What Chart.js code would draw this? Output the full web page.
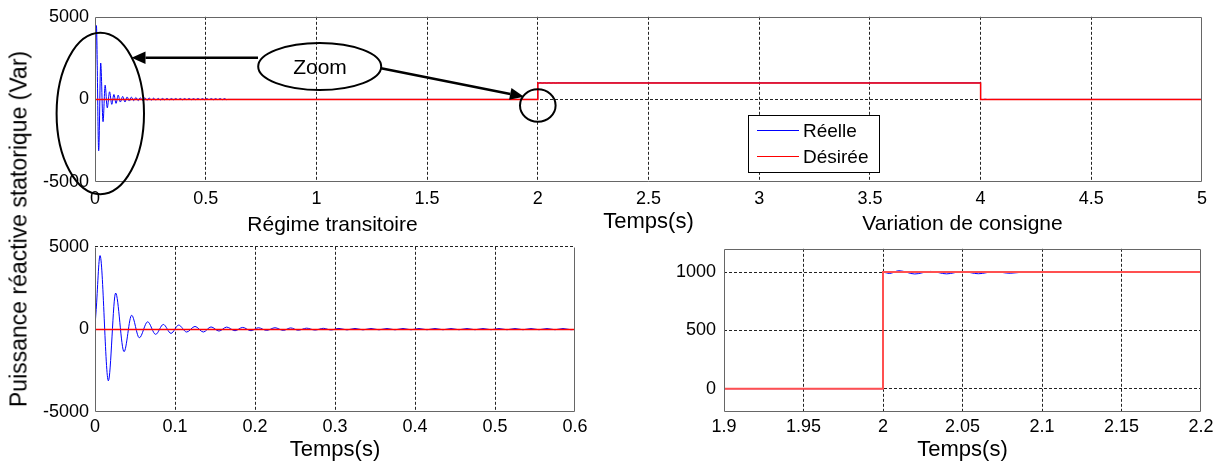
<!DOCTYPE html>
<html>
<head>
<meta charset="utf-8">
<script src="https://cdn.jsdelivr.net/npm/chart.js"></script>
<style>
html, body { margin: 0; padding: 0; background: #fff; }
body { width: 1223px; height: 465px; position: relative; overflow: hidden; font-family: 'Liberation Sans', Arial, sans-serif; }
canvas { position: absolute; }
#ylab { position: absolute; left: 18.5px; top: 229px; transform: translate(-50%, -50%) rotate(-90deg);
        font-size: 23px; line-height: 23px; white-space: nowrap; color: #000; }
</style>
</head>
<body>
<canvas id="topChart" width="1223" height="240" style="left:0;top:0"></canvas>
<canvas id="transChart" width="620" height="235" style="left:0;top:230px"></canvas>
<canvas id="zoomChart" width="603" height="235" style="left:620px;top:230px"></canvas>
<div id="ylab">Puissance réactive statorique (Var)</div>
<script>
// Réelle - transient part (peaks / troughs)
const transT = [0, 0.0015, 0.0063, 0.0167, 0.0258, 0.0363, 0.0458, 0.0554, 0.0658, 0.0758,
  0.0854, 0.095, 0.1046, 0.1146, 0.125, 0.1354, 0.145, 0.155, 0.1646, 0.175,
  0.1846, 0.195, 0.2042, 0.2146, 0.225, 0.2354, 0.2446, 0.254, 0.2646, 0.275,
  0.2854, 0.295, 0.305, 0.315, 0.325, 0.335, 0.345, 0.355, 0.365, 0.375,
  0.385, 0.395, 0.405, 0.415, 0.425, 0.435, 0.445, 0.455, 0.465, 0.475,
  0.485, 0.495, 0.505, 0.515, 0.525, 0.535, 0.545, 0.555, 0.565, 0.575,
  0.585, 0.595, 0.6];
const transV = [200, 1200, 4470, -3110, 2200, -1350, 860, -510, 460, -300,
  300, -240, 260, -160, 180, -160, 150, -100, 140, -80,
  120, -80, 100, -60, 100, -60, 90, -50, 75, -40,
  65, -35, 60, -30, 58, -28, 56, -25, 55, -25,
  55, -24, 54, -22, 54, -22, 53, -21, 53, -20,
  52, -20, 52, -20, 52, -20, 52, -19, 52, -19,
  52, -19, 0];

// Réelle - around the set point change at 2 s
const zoomT = [1.9, 2, 2, 2.004, 2.01, 2.02, 2.03, 2.04, 2.05, 2.06, 2.07, 2.08, 2.09, 2.1, 2.2];
const zoomV = [0, 0, 1000, 988, 1012, 984, 1006, 985, 1005, 986, 1004, 990, 1002, 1000, 1000];

// Réelle - back to zero at 4 s
const finT = [4, 4, 4.01, 4.02, 4.03, 4.05, 5];
const finV = [1000, 0, -12, 14, -6, 0, 0];

// Désirée
const desT = [0, 2, 2, 4, 4, 5];
const desV = [0, 0, 1000, 1000, 0, 0];
const desTransT = [0, 0.6];
const desTransV = [0, 0];
const desZoomT = [1.9, 2, 2, 2.2];
const desZoomV = [0, 0, 1000, 1000];

// tick labels
const topXTicks = [0, 0.5, 1, 1.5, 2, 2.5, 3, 3.5, 4, 4.5, 5];
const topYTicks = [-5000, 0, 5000];
const transXTicks = [0, 0.1, 0.2, 0.3, 0.4, 0.5, 0.6];
const transYTicks = [-5000, 0, 5000];
const zoomXTicks = [1.9, 1.95, 2, 2.05, 2.1, 2.15, 2.2];
const zoomYTicks = [0, 500, 1000];

const FONT = "'Liberation Sans', Arial, sans-serif";
const BLUE = '#0000ff';
const RED = '#ff0000';

const pts = (xs, ys) => xs.map((x, i) => ({ x: x, y: ys[i] }));

// grid colour: hide the lines lying on the box
function gridFor(hidden) {
    return function(c) {
        if (!c.tick) return '#222';
        return hidden.indexOf(c.tick.value) >= 0 ? 'rgba(0,0,0,0)' : '#222';
    };
}

function axis(ticksArr, min, max, size, isX, pad, hidden, title, titlePad) {
    const a = {
        type: 'linear', min: min, max: max,
        afterBuildTicks: s => { s.ticks = ticksArr.map(v => ({ value: v })); },
        afterFit: s => { if (isX) s.height = size; else s.width = size; },
        grid: { color: gridFor(hidden), drawTicks: false, lineWidth: 1 },
        border: { display: false, dash: [3, 2] },
        ticks: { padding: pad, color: '#000', font: { size: 18, family: FONT },
                 maxRotation: 0, autoSkip: false, callback: v => String(v) }
    };
    if (title) {
        a.title = { display: true, text: title, color: '#000',
                    font: { size: 22, family: FONT }, padding: { top: 0, bottom: titlePad } };
    }
    return a;
}

// box around the plot area (MATLAB axes)
const framePlugin = {
    id: 'frame',
    afterDatasetsDraw(chart, args, opts) {
        const a = chart.chartArea, ctx = chart.ctx;
        const sides = opts.sides || 'tlbr';
        const L = Math.round(a.left) + 0.5, R = Math.round(a.right) - 0.5;
        const T = Math.round(a.top) + 0.5, B = Math.round(a.bottom) - 0.5;
        ctx.save();
        ctx.strokeStyle = '#666';
        ctx.lineWidth = 1;
        ctx.beginPath();
        if (sides.indexOf('t') >= 0) { ctx.moveTo(L, T); ctx.lineTo(R, T); }
        if (sides.indexOf('b') >= 0) { ctx.moveTo(L, B); ctx.lineTo(R, B); }
        if (sides.indexOf('l') >= 0) { ctx.moveTo(L, T); ctx.lineTo(L, B); }
        if (sides.indexOf('r') >= 0) { ctx.moveTo(R, T); ctx.lineTo(R, B); }
        ctx.stroke();
        ctx.restore();
    }
};

function arrow(ctx, x1, y1, x2, y2, head, half) {
    const dx = x2 - x1, dy = y2 - y1, len = Math.hypot(dx, dy);
    const ux = dx / len, uy = dy / len;
    const bx = x2 - ux * head, by = y2 - uy * head;
    ctx.beginPath();
    ctx.moveTo(x1, y1);
    ctx.lineTo(bx, by);
    ctx.stroke();
    ctx.beginPath();
    ctx.moveTo(x2, y2);
    ctx.lineTo(bx - uy * half, by + ux * half);
    ctx.lineTo(bx + uy * half, by - ux * half);
    ctx.closePath();
    ctx.fill();
}

// legend, zoom annotations and section captions of the top plot
const notesPlugin = {
    id: 'notes',
    afterDraw(chart) {
        const ctx = chart.ctx;
        ctx.save();

        // legend
        ctx.fillStyle = '#fff';
        ctx.fillRect(748.5, 115.5, 131, 57);
        ctx.strokeStyle = '#000';
        ctx.lineWidth = 1;
        ctx.strokeRect(748.5, 115.5, 131, 57);
        ctx.font = '19px ' + FONT;
        ctx.textBaseline = 'middle';
        ctx.textAlign = 'left';
        chart.data.datasets.forEach((ds, i) => {
            const y = Math.round(130 + i * 25.7) + 0.5;
            ctx.strokeStyle = ds.borderColor;
            ctx.lineWidth = 1;
            ctx.beginPath();
            ctx.moveTo(757, y);
            ctx.lineTo(799, y);
            ctx.stroke();
            ctx.fillStyle = '#000';
            ctx.fillText(ds.label, 803, y + 1);
        });

        // ellipses
        ctx.strokeStyle = '#000';
        ctx.fillStyle = '#000';
        ctx.lineWidth = 2;
        ctx.beginPath();
        ctx.ellipse(100.3, 113.5, 43.7, 80.7, 0, 0, Math.PI * 2);
        ctx.stroke();
        ctx.beginPath();
        ctx.ellipse(319.7, 66.5, 61.5, 23.5, 0, 0, Math.PI * 2);
        ctx.stroke();
        ctx.beginPath();
        ctx.ellipse(537.8, 105.5, 17.8, 16.2, 0, 0, Math.PI * 2);
        ctx.stroke();

        // arrows
        ctx.lineWidth = 2.5;
        arrow(ctx, 258, 57.7, 131.5, 57.7, 14, 6.3);
        arrow(ctx, 381, 68.3, 524, 96.7, 14, 6);

        ctx.font = '21px ' + FONT;
        ctx.textAlign = 'center';
        ctx.textBaseline = 'alphabetic';
        ctx.fillText('Zoom', 320, 74);

        // section captions
        ctx.fillText('Régime transitoire', 332.5, 230.5);
        ctx.fillText('Variation de consigne', 962.5, 230);
        ctx.restore();
    }
};

const common = {
    responsive: false,
    animation: false,
    events: [],
    plugins: { legend: { display: false }, tooltip: { enabled: false } }
};

// top: whole simulation
new Chart(document.getElementById('topChart').getContext('2d'), {
    type: 'line',
    data: {
        datasets: [{
            label: 'Réelle',
            data: pts([...transT, ...zoomT, ...finT], [...transV, ...zoomV, ...finV]),
            borderColor: BLUE, borderWidth: 1, pointRadius: 0,
            cubicInterpolationMode: 'monotone', order: 1
        }, {
            label: 'Désirée',
            data: pts(desT, desV),
            borderColor: RED, borderWidth: 1.5, pointRadius: 0, tension: 0, order: 0
        }]
    },
    options: Object.assign({}, common, {
        layout: { padding: { left: 0, right: 21, top: 15, bottom: 0 } },
        plugins: Object.assign({}, common.plugins, { frame: { sides: 'tlbr' } }),
        scales: {
            x: axis(topXTicks, 0, 5, 58, true, 6, [0, 5], 'Temps(s)', 5),
            y: axis(topYTicks, -5000, 5000, 95, false, 6, [-5000, 5000])
        }
    }),
    plugins: [framePlugin, notesPlugin]
});

// bottom left: transient
new Chart(document.getElementById('transChart').getContext('2d'), {
    type: 'line',
    data: {
        datasets: [{
            label: 'Réelle',
            data: pts(transT, transV),
            borderColor: BLUE, borderWidth: 1, pointRadius: 0,
            cubicInterpolationMode: 'monotone', order: 1
        }, {
            label: 'Désirée',
            data: pts(desTransT, desTransV),
            borderColor: RED, borderWidth: 1.5, pointRadius: 0, order: 0
        }]
    },
    options: Object.assign({}, common, {
        layout: { padding: { left: 0, right: 45, top: 16, bottom: 0 } },
        plugins: Object.assign({}, common.plugins, { frame: { sides: 'lbr' } }),
        scales: {
            x: axis(transXTicks, 0, 0.6, 53, true, 4, [0, 0.6], 'Temps(s)', 2),
            y: axis(transYTicks, -5000, 5000, 95, false, 6, [-5000])
        }
    }),
    plugins: [framePlugin]
});

// bottom right: set point change
new Chart(document.getElementById('zoomChart').getContext('2d'), {
    type: 'line',
    data: {
        datasets: [{
            label: 'Réelle',
            data: pts(zoomT, zoomV),
            borderColor: BLUE, borderWidth: 1, pointRadius: 0,
            cubicInterpolationMode: 'monotone', order: 1
        }, {
            label: 'Désirée',
            data: pts(desZoomT, desZoomV),
            borderColor: 'rgb(255,80,80)', borderWidth: 2, pointRadius: 0, order: 0
        }]
    },
    options: Object.assign({}, common, {
        layout: { padding: { left: 0, right: 22, top: 16, bottom: 0 } },
        plugins: Object.assign({}, common.plugins, { frame: { sides: 'tlbr' } }),
        scales: {
            x: axis(zoomXTicks, 1.9, 2.2, 53, true, 4, [1.9, 2.2], 'Temps(s)', 2),
            y: axis(zoomYTicks, -200, 1200, 104, false, 8, [])
        }
    }),
    plugins: [framePlugin]
});
</script>
</body>
</html>
